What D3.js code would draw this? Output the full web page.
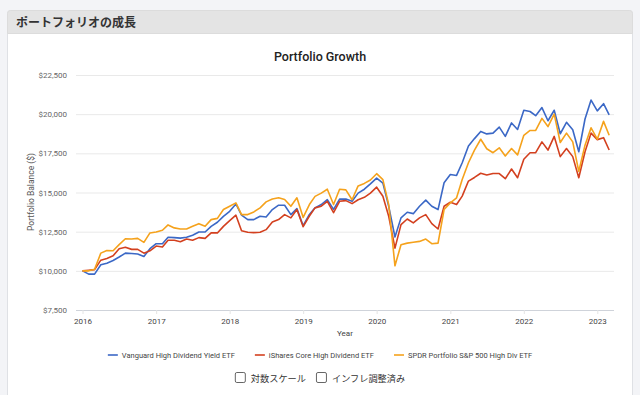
<!DOCTYPE html>
<html>
<head>
<meta charset="utf-8">
<script src="https://cdn.jsdelivr.net/npm/d3@7/dist/d3.min.js"></script>
<style>
  html, body { margin: 0; padding: 0; background: #f3f4f7; }
  svg { display: block; font-family: Roboto, "Noto Sans CJK JP", sans-serif; }
</style>
</head>
<body>
<svg id="chart" width="640" height="395"></svg>
<script>
// monthly balances: start of Jan 2016, then each month end up to Feb 2023
const seriesNames = ["Vanguard High Dividend Yield ETF", "iShares Core High Dividend ETF", "SPDR Portfolio S&P 500 High Div ETF"];

const vanguard = [
  10000, 9790, 9790, 10385, 10490, 10660, 10880, 11130, 11110, 11070, 10920, 11410,
  11730, 11730, 12140, 12120, 12090, 12140, 12270, 12480, 12480, 12840, 13100, 13480,
  13800, 14270, 13550, 13270, 13270, 13480, 13440, 13910, 14190, 14190, 13590, 13970,
  12880, 13600, 14020, 14230, 14540, 13920, 14580, 14580, 14440, 14960, 15210, 15550,
  15920, 15600, 14120, 12160, 13380, 13740, 13650, 14120, 14510, 14120, 13910, 15620,
  16150, 16090, 16900, 17970, 18440, 18900, 18740, 18790, 19170, 18580, 19440, 19020,
  20250, 20170, 19900, 20420, 19580, 20250, 18750, 19480, 19000, 17600, 19690, 20900,
  20210, 20670, 19960
];

const ishares = [
  10000, 10040, 10080, 10680, 10790, 10960, 11410, 11500, 11370, 11370, 11130, 11280,
  11580, 11520, 11950, 11950, 11860, 12030, 11950, 12120, 12070, 12420, 12420, 12840,
  13200, 13550, 12560, 12460, 12440, 12460, 12630, 13120, 13270, 13590, 13380, 13910,
  12820, 13500, 14020, 14125, 14440, 13710, 14440, 14480, 14290, 14540, 14690, 14960,
  15340, 14760, 13480, 11450, 12950, 13310, 13060, 13380, 13590, 13010, 12670, 14120,
  14380, 14230, 14770, 15730, 15960, 16230, 16120, 16210, 16210, 15880, 16500, 15940,
  17125, 17540, 17540, 18230, 17710, 18580, 17290, 17810, 17290, 15940, 17600, 18790,
  18375, 18500, 17710
];

const spdr = [
  10000, 10000, 10100, 11130, 11300, 11280, 11670, 12050, 12030, 12070, 11820, 12420,
  12480, 12590, 12930, 12740, 12670, 12670, 12840, 13010, 12840, 13270, 13350, 13910,
  14120, 14340, 13590, 13590, 13760, 14020, 14400, 14590, 14660, 14550, 14120, 14660,
  13410, 14230, 14750, 14960, 15210, 14230, 15210, 15170, 14540, 15420, 15580, 15800,
  16200, 15820, 14230, 10320, 11670, 11770, 11820, 11880, 12030, 11730, 11770, 13910,
  14340, 14660, 15830, 16900, 17700, 18400, 17790, 17540, 17850, 17330, 17810, 17400,
  18650, 18960, 18960, 19730, 19210, 20000, 18190, 18790, 18230, 16350, 18020, 19125,
  18400, 19540, 18650
];

const yearTicks = [2016, 2017, 2018, 2019, 2020, 2021, 2022, 2023];
const balanceTicks = [7500, 10000, 12500, 15000, 17500, 20000, 22500];
const optionLabels = ["対数スケール", "インフレ調整済み"];

const colors = ["#3b68c6", "#d3401f", "#f5a21c"];
const allSeries = [vanguard, ishares, spdr];
const months = d3.timeMonth.range(new Date(2016, 0, 1), new Date(2023, 2, 2));

const svg = d3.select("#chart");

// card with grey header
const card = svg.append("g");
card.append("rect")
  .attr("x", 7.5).attr("y", 10.5)
  .attr("width", 625).attr("height", 400)
  .attr("rx", 3)
  .attr("fill", "#fff")
  .attr("stroke", "#dfe1e5");
card.append("path")
  .attr("d", "M7.5,33.5 V13.5 a3,3 0 0 1 3,-3 H629.5 a3,3 0 0 1 3,3 V33.5 Z")
  .attr("fill", "#e4e4e4")
  .attr("stroke", "#dcdcdc");
card.append("text")
  .attr("x", 16).attr("y", 26.5)
  .attr("font-size", 12)
  .attr("font-weight", "bold")
  .attr("fill", "#333")
  .text("ポートフォリオの成長");

// chart title
svg.append("text")
  .attr("x", 320).attr("y", 61)
  .attr("text-anchor", "middle")
  .attr("font-size", 12.5)
  .attr("font-weight", 500)
  .attr("fill", "#222")
  .text("Portfolio Growth");

const plotLeft = 76, plotRight = 614;

let x = d3.scaleTime()
  .domain([new Date(2016, 0, 1), new Date(2023, 0, 1)])
  .range([82.5, 597.3]);

let y = d3.scaleLinear()
  .domain([7500, 22500])
  .range([310, 75]);

// y grid + labels
const yAxis = svg.append("g")
  .attr("transform", "translate(" + plotLeft + ",0)")
  .call(d3.axisLeft(y)
    .tickValues(balanceTicks)
    .tickSize(-(plotRight - plotLeft))
    .tickPadding(9)
    .tickFormat(function (d) { return "$" + d3.format(",")(d); }));
yAxis.select(".domain").remove();
yAxis.selectAll(".tick line")
  .attr("stroke", function (d) { return d === 7500 ? "#cfd3da" : "#e9e9e9"; });
yAxis.selectAll(".tick text")
  .attr("font-size", 8)
  .attr("font-family", "Roboto, sans-serif")
  .attr("fill", "#666");

// x ticks
const xAxis = svg.append("g")
  .attr("transform", "translate(0,310)")
  .call(d3.axisBottom(x)
    .tickValues(yearTicks.map(function (yr) { return new Date(yr, 0, 1); }))
    .tickSize(4)
    .tickPadding(4)
    .tickFormat(d3.timeFormat("%Y")));
xAxis.select(".domain").remove();
xAxis.selectAll(".tick line").attr("stroke", "#e4e4e4");
xAxis.selectAll(".tick text")
  .attr("font-size", 8)
  .attr("font-family", "Roboto, sans-serif")
  .attr("fill", "#444");

// axis titles
svg.append("text")
  .attr("x", (plotLeft + plotRight) / 2).attr("y", 336)
  .attr("text-anchor", "middle")
  .attr("font-size", 8)
  .attr("fill", "#444")
  .text("Year");

svg.append("text")
  .attr("transform", "translate(34,192) rotate(-90)")
  .attr("text-anchor", "middle")
  .attr("font-size", 8.5)
  .attr("fill", "#555")
  .text("Portfolio Balance ($)");

// lines
const line = d3.line()
  .x(function (d, i) { return x(months[i]); })
  .y(function (d) { return y(d); });

svg.append("g")
  .selectAll("path")
  .data(allSeries)
  .enter().append("path")
  .attr("d", line)
  .attr("fill", "none")
  .attr("stroke", function (d, i) { return colors[i]; })
  .attr("stroke-width", 1.6)
  .attr("stroke-linejoin", "round");

// legend, centred under the plot
const legend = svg.append("g")
  .attr("font-size", 7.5)
  .attr("fill", "#444");

const items = legend.selectAll("g")
  .data(seriesNames)
  .enter().append("g");

items.append("line")
  .attr("x1", 0).attr("x2", 10)
  .attr("y1", 355).attr("y2", 355)
  .attr("stroke", function (d, i) { return colors[i]; })
  .attr("stroke-width", 1.6);

items.append("text")
  .attr("x", 14)
  .attr("y", 357.7)
  .text(function (d) { return d; });

const gap = 20;
let widths = [];
items.each(function () {
  widths.push(14 + d3.select(this).select("text").node().getComputedTextLength());
});
let total = d3.sum(widths) + gap * (widths.length - 1);
let cx = 320 - total / 2;
items.attr("transform", function (d, i) {
  const t = "translate(" + cx + ",0)";
  cx += widths[i] + gap;
  return t;
});

// option checkboxes
const opts = svg.append("g")
  .attr("font-size", 9.2)
  .attr("fill", "#333");
const optItems = opts.selectAll("g")
  .data(optionLabels)
  .enter().append("g");
optItems.append("rect")
  .attr("x", 0.5).attr("y", 372.5)
  .attr("width", 10).attr("height", 10)
  .attr("rx", 1.5)
  .attr("fill", "#fff")
  .attr("stroke", "#666");
optItems.append("text")
  .attr("x", 16).attr("y", 381.5)
  .text(function (d) { return d; });

let optWidths = [];
optItems.each(function () {
  optWidths.push(16 + d3.select(this).select("text").node().getComputedTextLength());
});
let optX = 320 - (d3.sum(optWidths) + 10) / 2;
optItems.attr("transform", function (d, i) {
  const t = "translate(" + optX + ",0)";
  optX += optWidths[i] + 10;
  return t;
});
</script>
</body>
</html>
